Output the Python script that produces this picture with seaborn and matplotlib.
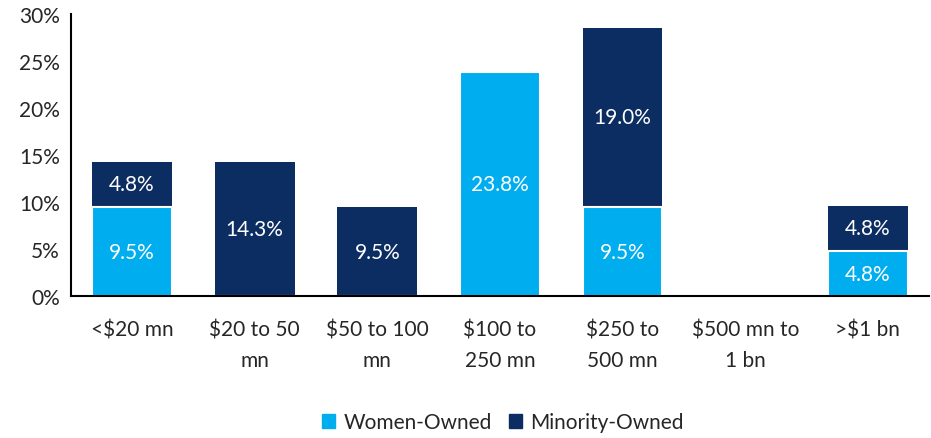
import matplotlib
matplotlib.use("Agg")
import matplotlib.pyplot as plt
import seaborn as sns
import numpy as np
import pandas as pd
from matplotlib.patches import Patch
from matplotlib.ticker import FixedLocator, PercentFormatter

categories = ["<$20 mn", "$20 to 50\nmn", "$50 to 100\nmn", "$100 to\n250 mn",
              "$250 to\n500 mn", "$500 mn to\n1 bn", ">$1 bn"]
women_owned = [9.5, 0.0, 0.0, 23.8, 9.5, 0.0, 4.8]
minority_owned = [4.8, 14.3, 9.5, 0.0, 19.0, 0.0, 4.8]

light_blue = "#00AEEF"
navy = "#0C2D62"

sns.set_style("white")
plt.rcParams["font.family"] = ["Lato", "DejaVu Sans"]

df = pd.DataFrame({"category": categories, "women": women_owned,
                   "minority": minority_owned})
df["total"] = df["women"] + df["minority"]

fig = plt.figure(figsize=(9.31, 4.39), dpi=100)
ax = fig.add_axes([0.076, 0.323, 0.922, 0.643])

# stacked bars: totals in navy, women-owned drawn on top
sns.barplot(data=df, x="category", y="total", color=navy, width=0.65,
            saturation=1, ax=ax, linewidth=0)
sns.barplot(data=df, x="category", y="women", color=light_blue, width=0.65,
            saturation=1, ax=ax, edgecolor="white", linewidth=1.5)

for i, (w, m) in enumerate(zip(women_owned, minority_owned)):
    if w > 0:
        ax.text(i, w / 2, f"{w:.1f}%", ha="center", va="center",
                color="white", fontsize=15)
    if m > 0:
        ax.text(i, w + m / 2, f"{m:.1f}%", ha="center", va="center",
                color="white", fontsize=15)

ax.set_ylim(0, 30)
ax.set_xlim(-0.5, len(categories) - 0.5)
ax.yaxis.set_major_formatter(PercentFormatter(decimals=0))
ax.set_yticks(np.arange(0, 31, 5))

# boundary ticks on x, labels centred on minor positions
ax.xaxis.set_major_locator(FixedLocator(np.arange(-0.5, len(categories), 1)))
ax.xaxis.set_minor_locator(FixedLocator(np.arange(len(categories))))
ax.set_xticklabels([""] * (len(categories) + 1))
ax.set_xticklabels(categories, minor=True, fontsize=15, linespacing=1.65)
ax.tick_params(axis="x", which="major", direction="out", length=6, width=1.5,
               color="black")
ax.tick_params(axis="x", which="minor", length=0, pad=17)
ax.tick_params(axis="y", direction="out", length=6, width=1.5, color="black",
               labelsize=15, pad=2)

ax.set_xlabel("")
ax.set_ylabel("")
for side in ["top", "right"]:
    ax.spines[side].set_visible(False)
for side in ["left", "bottom"]:
    ax.spines[side].set_color("black")
    ax.spines[side].set_linewidth(1.5)

handles = [Patch(color=light_blue, label="Women-Owned"),
           Patch(color=navy, label="Minority-Owned")]
fig.legend(handles=handles, loc="lower center", ncol=2, frameon=False,
           fontsize=15, bbox_to_anchor=(0.54, -0.03), handlelength=0.65,
           handleheight=0.65, handletextpad=0.4, columnspacing=0.8)

fig.savefig("out.png", dpi=100)
